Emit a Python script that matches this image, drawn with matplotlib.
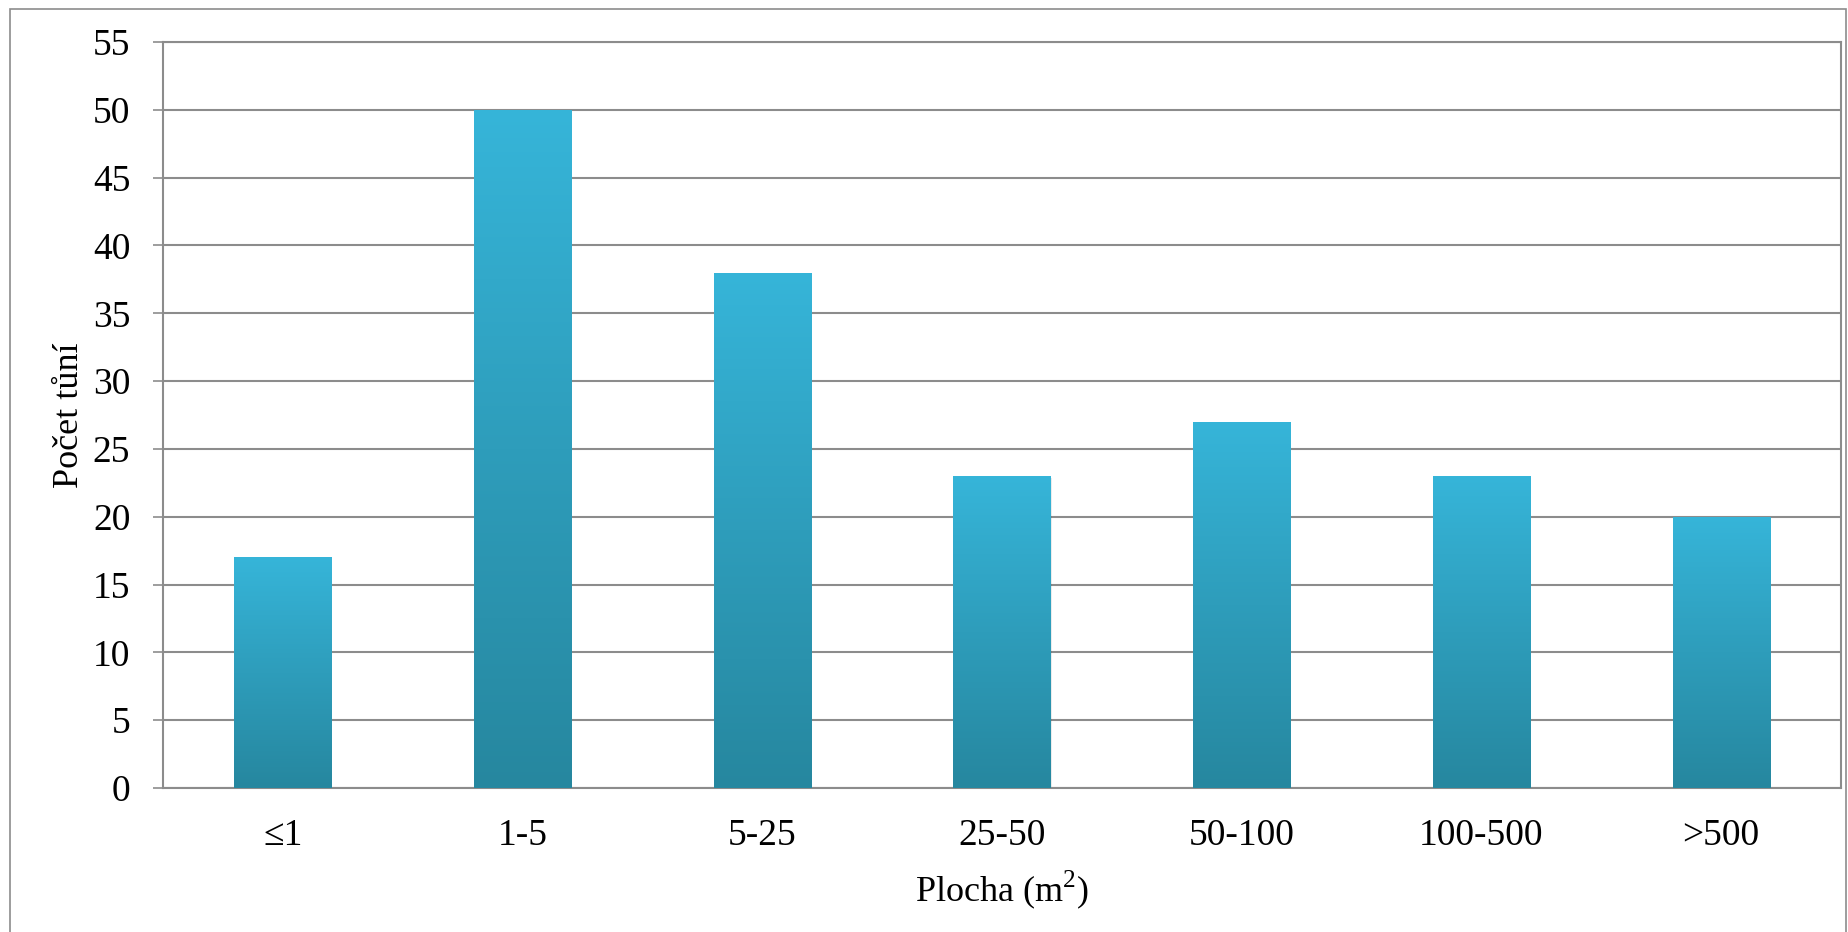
import numpy as np
import matplotlib
matplotlib.use("Agg")
import matplotlib.pyplot as plt
from matplotlib.colors import LinearSegmentedColormap
from matplotlib.patches import Rectangle

categories = ["\u22641", "1-5", "5-25", "25-50", "50-100", "100-500", ">500"]
counts = [17, 50, 38, 23, 27, 23, 20]
y_ticks = list(range(0, 56, 5))

plt.rcParams['font.family'] = ['Liberation Serif', 'DejaVu Serif']
plt.rcParams['mathtext.fontset'] = 'custom'
plt.rcParams['mathtext.rm'] = 'Liberation Serif'

W, H = 1849, 932
fig = plt.figure(figsize=(W / 100, H / 100), dpi=100)
# outer chart frame (bottom edge runs off the image)
fig.patches.append(Rectangle((10 / W, -0.05), (1846 - 10) / W, (H - 9) / H + 0.05,
                             transform=fig.transFigure, fill=False,
                             edgecolor='#8c8c8c', linewidth=1.2))

ax = fig.add_axes([163 / W, (H - 788) / H, (1841 - 163) / W, (788 - 42) / H])
x = np.arange(len(categories))
bars = ax.bar(x, counts, width=0.405, color='none', edgecolor='none', zorder=3)

cmap = LinearSegmentedColormap.from_list('bar', ['#26879f', '#2e9dbb', '#36b5d9'])
grad = np.linspace(0, 1, 256).reshape(-1, 1)
for b in bars:
    x0, w, h = b.get_x(), b.get_width(), b.get_height()
    # faint shadow
    ax.add_patch(Rectangle((x0 + 0.004, -0.15), w, h, facecolor='#000000', alpha=0.08,
                           edgecolor='none', zorder=2))
    im = ax.imshow(grad, cmap=cmap, origin='lower', aspect='auto',
                   extent=(x0, x0 + w, 0, h), zorder=3)
    im.set_clip_path(b)

ax.set_xlim(-0.5, len(categories) - 0.5)
ax.set_ylim(0, 55)
ax.set_yticks(y_ticks)
ax.set_xticks(x)
ax.set_xticklabels(categories)
ax.yaxis.grid(True, color='#8c8c8c', linewidth=1.5, zorder=0)
ax.set_axisbelow(True)
for s in ax.spines.values():
    s.set_color('#8c8c8c')
    s.set_linewidth(1.5)
ax.tick_params(axis='y', length=7.5, width=1.2, color='#8c8c8c', pad=16, labelsize=27)
ax.tick_params(axis='x', length=0, pad=22, labelsize=27)
ax.set_xlabel("Plocha (m$^{2}$)", fontsize=26, labelpad=11)
ax.set_ylabel("Po\u010det t\u016fn\u00ed", fontsize=26, labelpad=5)

fig.savefig("out.png", dpi=100)
